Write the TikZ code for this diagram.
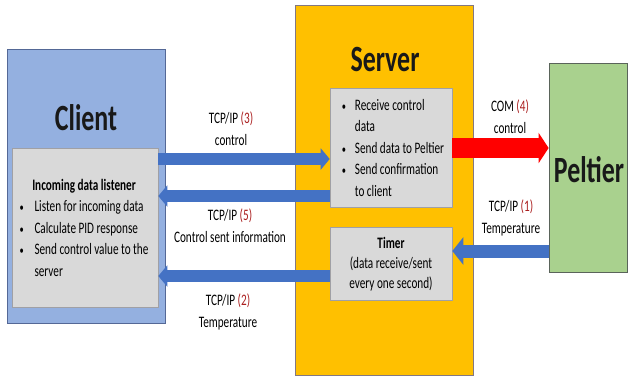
\documentclass[tikz,border=0pt]{standalone}
\usepackage{fontspec}
\setmainfont{Carlito}[FakeStretch=0.7]
\usetikzlibrary{arrows.meta}
\definecolor{clientblue}{RGB}{148,176,224}
\definecolor{clientedge}{RGB}{84,104,150}
\definecolor{servergold}{RGB}{255,192,0}
\definecolor{serveredge}{RGB}{130,120,130}
\definecolor{peltiergreen}{RGB}{169,209,142}
\definecolor{peltieredge}{RGB}{90,100,90}
\definecolor{boxgray}{RGB}{217,217,217}
\definecolor{boxedge}{RGB}{160,160,165}
\definecolor{arrowblue}{RGB}{68,114,196}
\definecolor{arrowred}{RGB}{255,0,0}
\definecolor{numred}{RGB}{170,30,30}
\newcommand\nr[1]{\textcolor{numred}{(#1)}}
\newcommand\bul{{\fontsize{12}{12}\selectfont\textbullet}}
\begin{document}
\begin{tikzpicture}[x=1pt,y=-1pt,
  bigbox/.style={draw, line width=0.8pt, inner sep=0pt},
  graybox/.style={draw=boxedge, fill=boxgray, line width=0.6pt, inner sep=0pt},
  titletext/.style={font=\fontsize{37}{40}\selectfont\bfseries, text=black!90, inner sep=0pt},
  body/.style={font=\fontsize{16}{21.5}\selectfont, align=center, inner sep=0pt},
  lbl/.style={font=\fontsize{16}{22}\selectfont, align=center, inner sep=0pt},
  bluearrow/.style={draw=arrowblue, line width=12pt, -{Triangle[length=9pt,width=21pt]}},
  bigbluearrow/.style={draw=arrowblue, line width=13pt, -{Triangle[length=11pt,width=27pt]}},
  redarrow/.style={draw=arrowred, line width=20pt, -{Triangle[length=10pt,width=30pt]}}]
\useasboundingbox (0,0) rectangle (628,376);

% Client
\node[bigbox, draw=clientedge, fill=clientblue, minimum width=158pt, minimum height=274pt] (client) at (86,186) {};
\node[titletext] (clienttitle) at (86,118) {Client};
\node[graybox, minimum width=146pt, minimum height=159pt] (listener) at (85,227.5) {};
\node[body] (listenertext) at (84,229) {%
  \begin{tabular}{@{}p{15pt}@{}l@{}}
  \multicolumn{2}{c}{\bfseries Incoming data listener}\\
  \bul & Listen for incoming data\\
  \bul & Calculate PID response\\
  \bul & Send control value to the\\
   & server
  \end{tabular}};

% Server
\node[bigbox, draw=serveredge, fill=servergold, minimum width=178pt, minimum height=370pt] (server) at (384,190) {};
\node[titletext] (servertitle) at (385,59) {Server};
\node[graybox, minimum width=122pt, minimum height=119pt] (recv) at (391,147.5) {};
\node[body] (recvtext) at (393,149) {%
  \begin{tabular}{@{}p{13pt}@{}l@{}}
  \bul & Receive control\\
   & data\\
  \bul & Send data to Peltier\\
  \bul & Send confirmation\\
   & to client
  \end{tabular}};
\node[graybox, minimum width=122pt, minimum height=73pt] (timer) at (391,263.5) {};
\node[body, font=\fontsize{16}{20}\selectfont] (timertext) at (391,264) {\textbf{Timer}\\(data receive/sent\\every one second)};

% Peltier
\node[bigbox, draw=peltieredge, fill=peltiergreen, minimum width=78pt, minimum height=209pt] (peltier) at (588,167.5) {};
\node[titletext] (peltiertitle) at (589,170) {Peltier};

% Arrows
\draw[bluearrow] (listener.east |- 0,159) -- (recv.west |- 0,159);
\draw[bluearrow] (recv.west |- 0,196) -- (listener.east |- 0,196);
\draw[bluearrow] (timer.west |- 0,276) -- (listener.east |- 0,276);
\draw[redarrow] (recv.east |- 0,148) -- (peltier.west |- 0,148);
\draw[bigbluearrow] (peltier.west |- 0,251) -- (timer.east |- 0,251);

% Labels
\node[lbl] (l3) at (231,129) {TCP/IP \nr{3}\\control};
\node[lbl] (l5) at (230,226) {TCP/IP \nr{5}\\Control sent information};
\node[lbl] (l2) at (228,312) {TCP/IP \nr{2}\\Temperature};
\node[lbl] (l4) at (510,117) {COM \nr{4}\\control};
\node[lbl] (l1) at (511,218) {TCP/IP \nr{1}\\Temperature};
\end{tikzpicture}
\end{document}
